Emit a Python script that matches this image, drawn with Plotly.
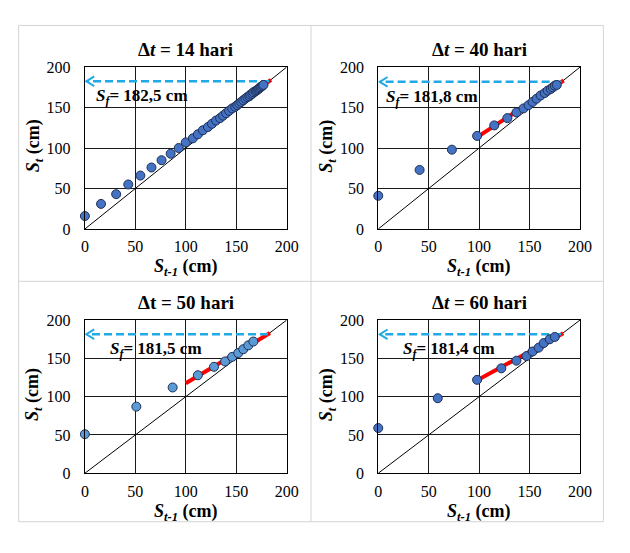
import plotly.graph_objects as go

# ---------------- data ----------------
titles = ["<b>Δ<i>t</i> = 14 hari</b>", "<b>Δ<i>t</i> = 40 hari</b>",
          "<b>Δt = 50 hari</b>", "<b>Δ<i>t</i> = 60 hari</b>"]

# successive lengths S (each point is (S[t-1], S[t]))
s_14 = [0, 16, 31, 43, 55, 66, 76, 85, 93, 100, 107, 112, 117, 122, 126, 130, 134,
        137, 140, 143, 146, 149, 151, 153, 155, 157, 159, 161, 163, 164, 166, 167,
        169, 170, 171, 172, 173, 174, 175, 176, 177, 178]
s_40 = [0, 41, 73, 98, 115, 128, 137, 144, 149, 153, 157, 161, 165, 168, 171, 173,
        175, 177, 178]
s_50 = [0, 51, 87, 112, 128, 139, 146, 152, 157, 162, 167, 172]
s_60 = [0, 59, 98, 122, 137, 147, 153, 159, 164, 170, 175, 178]
series = [s_14, s_40, s_50, s_60]

s_inf = [182.5, 181.8, 181.5, 181.4]          # asymptotic length S_f
s_inf_labels = ["182,5", "181,8", "181,5", "181,4"]
fit_start = [140, 100, 100, 98.6]              # first S_{t-1} of the fitted line
fit_slope = [0.912, 0.817, 0.784, 0.72]        # slope of the fitted line
marker_fill = ["#4472C4", "#4472C4", "#5B9BD5", "#4472C4"]

axis_ticks = [0, 50, 100, 150, 200]

# ---------------- layout geometry ----------------
W, H = 630, 553
FONT = "Liberation Serif"
boxes = [(83, 61, 290, 228), (384, 61, 591, 228), (83, 322, 290, 480), (384, 322, 591, 480)]

fig = go.Figure()
layout = dict(width=W, height=H, margin=dict(l=0, r=0, t=0, b=0),
              paper_bgcolor="white", plot_bgcolor="white", showlegend=False,
              font=dict(family=FONT, color="black"))
annotations = []
shapes = []

for i, (l, t, r, b) in enumerate(boxes):
    k = "" if i == 0 else str(i + 1)
    xa, ya = "x" + k, "y" + k
    axcommon = dict(range=[0, 200], tickvals=axis_ticks, showgrid=True, gridcolor="#1a1a1a",
                    gridwidth=1, showline=True, linecolor="black", linewidth=1.2, mirror=True,
                    zeroline=False, ticks="", fixedrange=True,
                    tickfont=dict(family=FONT, size=16, color="black"))
    layout["xaxis" + k] = dict(axcommon, domain=[l / W, r / W], anchor=ya, ticklabelstandoff=3)
    layout["yaxis" + k] = dict(axcommon, domain=[1 - b / H, 1 - t / H], anchor=xa,
                               ticklabelstandoff=10)

    s = series[i]
    sf = s_inf[i]
    pxx = (r - l) / 200.0
    pxy = (b - t) / 200.0

    # 1:1 line
    fig.add_trace(go.Scatter(x=axis_ticks[::4], y=axis_ticks[::4], mode="lines",
                             line=dict(color="black", width=1), xaxis=xa, yaxis=ya,
                             hoverinfo="skip"))
    # fitted line
    fx = [fit_start[i], sf + 2]
    fy = [sf + fit_slope[i] * (v - sf) for v in fx]
    fig.add_trace(go.Scatter(x=fx, y=fy, mode="lines", line=dict(color="#FF0000", width=4),
                             xaxis=xa, yaxis=ya, hoverinfo="skip"))
    # dashed arrow to S_f
    fig.add_trace(go.Scatter(x=[sf, 1.5], y=[sf, sf], mode="lines",
                             line=dict(color="#1FA9E6", width=2.5, dash="8px,4px"),
                             xaxis=xa, yaxis=ya, hoverinfo="skip"))
    fig.add_trace(go.Scatter(x=[1.5 + 8 / pxx, 1.5, 1.5 + 8 / pxx],
                             y=[sf + 5 / pxy, sf, sf - 5 / pxy], mode="lines",
                             line=dict(color="#1FA9E6", width=2),
                             xaxis=xa, yaxis=ya, hoverinfo="skip"))
    # data points
    fig.add_trace(go.Scatter(x=s[:-1], y=s[1:], mode="markers", cliponaxis=False,
                             marker=dict(size=9, color=marker_fill[i],
                                         line=dict(color="#1F2F55", width=1)),
                             xaxis=xa, yaxis=ya))

    cx = (l + r) / 2.0
    # panel title
    annotations.append(dict(text=titles[i], x=cx / W, y=1 - (t - 18) / H, xref="paper",
                            yref="paper", showarrow=False, xanchor="center", yanchor="middle",
                            font=dict(family=FONT, size=19, color="black")))
    # x axis title
    annotations.append(dict(text="<b><i>S</i><sub><i>t-1</i></sub> (cm)</b>", x=cx / W,
                            y=1 - (b + 40) / H, xref="paper", yref="paper", showarrow=False,
                            xanchor="center", yanchor="middle",
                            font=dict(family=FONT, size=18, color="black")))
    # y axis title
    annotations.append(dict(text="<b><i>S</i><sub><i>t</i></sub> (cm)</b>", x=(l - 52) / W,
                            y=1 - ((t + b) / 2.0 - 2) / H, xref="paper", yref="paper",
                            showarrow=False, textangle=-90, xanchor="center", yanchor="middle",
                            font=dict(family=FONT, size=18, color="black")))
    # S_f label
    lab_x = [8.7, 5.8, 23, 23][i]
    annotations.append(dict(text="<b><i>S</i><sub><i>f</i></sub>= " + s_inf_labels[i] + " cm</b>",
                            x=lab_x, y=sf - 20, xref=xa, yref=ya, showarrow=False,
                            xanchor="left", yanchor="middle",
                            font=dict(family=FONT, size=17, color="black")))

# table borders
grid_col = "#D4D4D4"
for (x0, y0, x1, y1) in [(15, 18, 615, 18), (15, 282, 615, 282), (15, 530, 615, 530),
                         (15, 18, 15, 530), (315, 18, 315, 530), (615, 18, 615, 530)]:
    shapes.append(dict(type="line", xref="paper", yref="paper", x0=x0 / W, x1=x1 / W,
                       y0=1 - y0 / H, y1=1 - y1 / H, line=dict(color=grid_col, width=1)))

layout["annotations"] = annotations
layout["shapes"] = shapes
fig.update_layout(**layout)
fig.write_html("out.html")
